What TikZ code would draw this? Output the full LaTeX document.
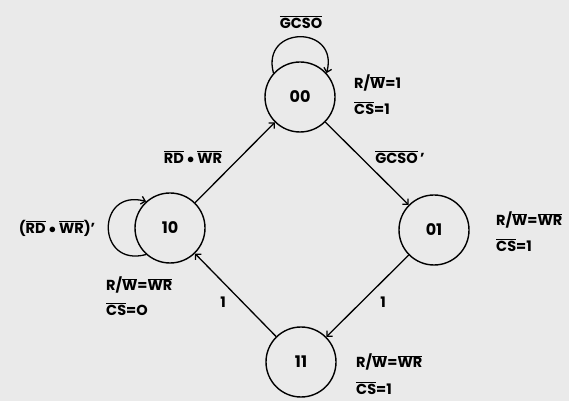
\documentclass[tikz,border=0pt]{standalone}
\usepackage{fontspec}
\setmainfont{Poppins}
\usetikzlibrary{arrows.meta}
\newcommand{\ovl}[1]{$\overline{\mbox{#1}}$}
\definecolor{paper}{RGB}{234,234,234}
\begin{document}
\begin{tikzpicture}[x=1pt,y=1pt,
  state/.style={circle,draw,line width=1.4pt,minimum size=70pt,inner sep=0pt,font=\fontsize{16}{18}\selectfont\bfseries},
  lbl/.style={font=\fontsize{14.5}{16}\selectfont\bfseries,inner sep=0pt},
  outl/.style={lbl,anchor=west},
  edge/.style={line width=1.3pt,-{Straight Barb[length=4pt,width=8pt]}}]
  % sheet
  \fill[paper] (0,0) rectangle (569,401);
  \useasboundingbox (0,0) rectangle (569,401);
  % states
  \node[state] (s00) at (300,304) {00};
  \node[state] (s10) at (170,173) {10};
  \node[state] (s01) at (434,171) {01};
  \node[state] (s11) at (301,39) {11};
  % transitions
  \draw[edge] (s10) -- (s00);
  \draw[edge] (s00) -- (s01);
  \draw[edge] (s01) -- (s11);
  \draw[edge] (s11) -- (s10);
  \draw[edge] (s00.138) .. controls +(105:50) and +(75:50) .. (s00.42);
  \draw[edge] (s10.228) .. controls +(195:52) and +(165:52) .. (s10.132);
  % transition conditions
  \node[lbl] (c00) at (301,379) {\ovl{GCSO}};
  \node[lbl] (c10) at (193,244) {\ovl{RD} $\bullet$ \ovl{WR}};
  \node[lbl] (c01) at (400,244) {\ovl{GCSO}\,'};
  \node[lbl] (c10s) at (57,173) {(\ovl{RD} $\bullet$ \ovl{WR})'};
  \node[lbl] (c11a) at (223,99) {1};
  \node[lbl] (c11b) at (383,99) {1};
  % outputs
  \node[outl] (o00a) at (354,318) {R/\ovl{W}=1};
  \node[outl] (o00b) at (354,293) {\ovl{CS}=1};
  \node[outl] (o01a) at (496,181) {R/\ovl{W}=\ovl{WR}};
  \node[outl] (o01b) at (496,156) {\ovl{CS}=1};
  \node[outl] (o10a) at (106,116) {R/\ovl{W}=\ovl{WR}};
  \node[outl] (o10b) at (106,92) {\ovl{CS}=O};
  \node[outl] (o11a) at (356,39) {R/\ovl{W}=\ovl{WR}};
  \node[outl] (o11b) at (356,13) {\ovl{CS}=1};
\end{tikzpicture}
\end{document}
